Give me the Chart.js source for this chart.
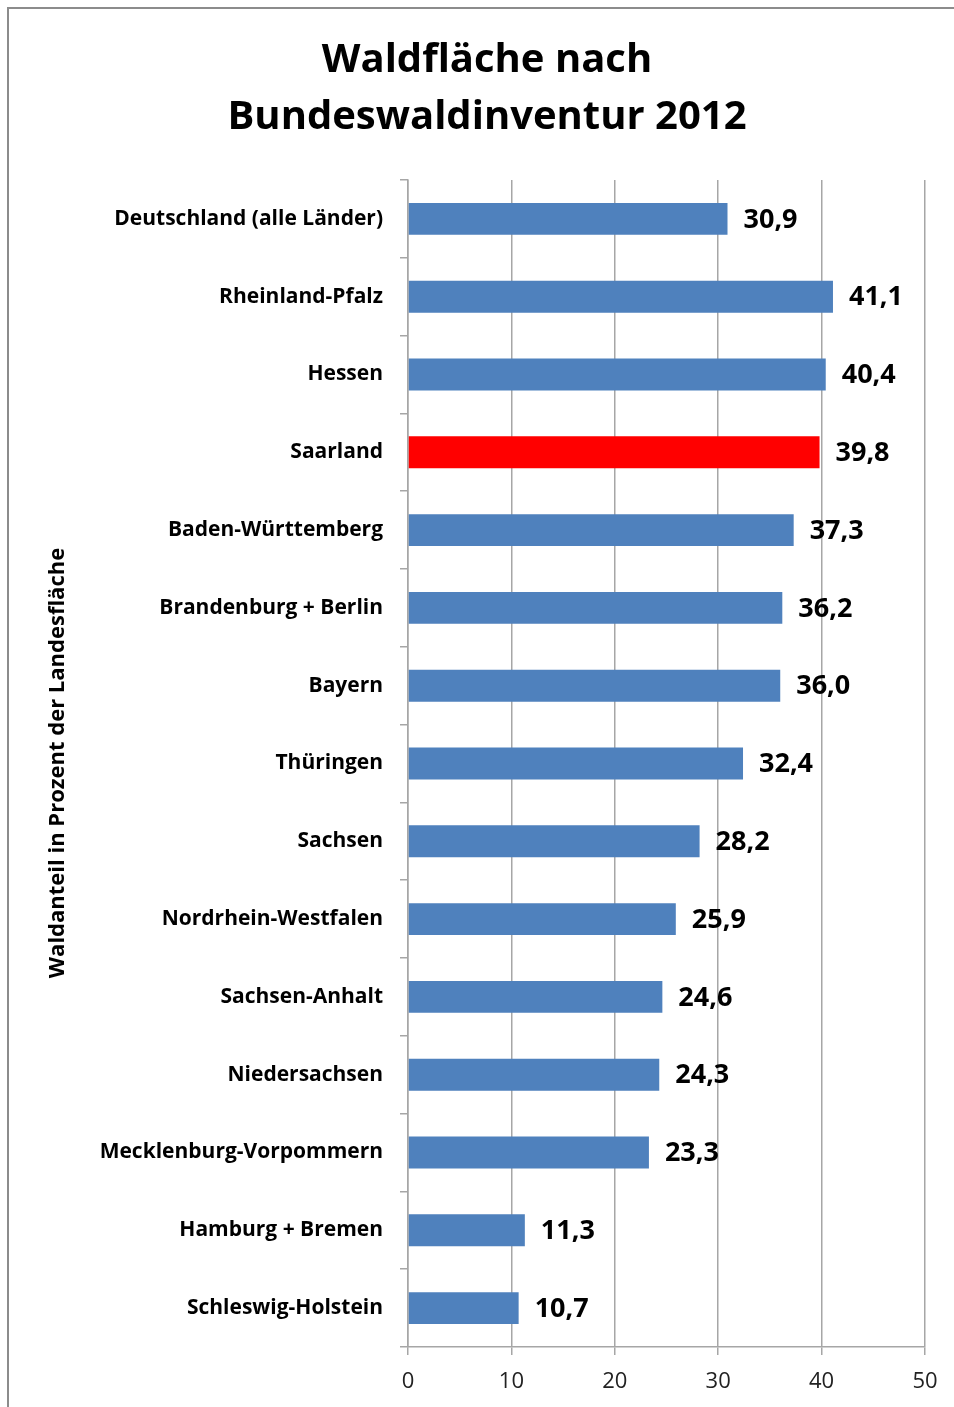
<!DOCTYPE html>
<html>
<head>
<meta charset="utf-8">
<title>Waldfläche nach Bundeswaldinventur 2012</title>
<script src="https://cdn.jsdelivr.net/npm/chart.js@4"></script>
<style>
  html, body { margin: 0; padding: 0; background: #fff; }
  #wrap { position: relative; width: 954px; height: 1407px; }
</style>
</head>
<body>
<div id="wrap"><canvas id="waldChart"></canvas></div>
<script>
var laender = [
  "Deutschland (alle Länder)",
  "Rheinland-Pfalz",
  "Hessen",
  "Saarland",
  "Baden-Württemberg",
  "Brandenburg + Berlin",
  "Bayern",
  "Thüringen",
  "Sachsen",
  "Nordrhein-Westfalen",
  "Sachsen-Anhalt",
  "Niedersachsen",
  "Mecklenburg-Vorpommern",
  "Hamburg + Bremen",
  "Schleswig-Holstein"
];
var waldanteil = [30.9, 41.1, 40.4, 39.8, 37.3, 36.2, 36.0, 32.4, 28.2, 25.9, 24.6, 24.3, 23.3, 11.3, 10.7];
var xTicks = [0, 10, 20, 30, 40, 50];
var hervorheben = "Saarland";

var titelZeilen = ["Waldfläche nach", "Bundeswaldinventur 2012"];
var achsenTitel = "Waldanteil in Prozent der Landesfläche";

var FONT = "'Open Sans', sans-serif";

var barColors = laender.map(function (l) {
  return l === hervorheben ? "#FF0000" : "#4F81BD";
});

function deZahl(v) {
  return v.toFixed(1).replace(".", ",");
}

// Rahmen, Überschrift, Achsentitel und Werte an den Balken
var beschriftung = {
  id: "beschriftung",
  beforeDraw: function (chart) {
    var ctx = chart.ctx;
    ctx.save();
    ctx.strokeStyle = "#8c8c8c";
    ctx.lineWidth = 2;
    ctx.beginPath();
    ctx.moveTo(8, 1407);
    ctx.lineTo(8, 8);
    ctx.lineTo(954, 8);
    ctx.stroke();

    ctx.fillStyle = "#000";
    ctx.textAlign = "center";
    ctx.textBaseline = "middle";
    ctx.font = "bold 40px " + FONT;
    ctx.fillText(titelZeilen[0], 487, 61);
    ctx.fillText(titelZeilen[1], 487, 118);

    ctx.translate(58, 763);
    ctx.rotate(-Math.PI / 2);
    ctx.font = "bold 22px " + FONT;
    ctx.fillText(achsenTitel, 0, 0);
    ctx.restore();
  },
  afterDatasetsDraw: function (chart) {
    var ctx = chart.ctx;
    var meta = chart.getDatasetMeta(0);
    ctx.save();
    ctx.fillStyle = "#000";
    ctx.font = "bold 27px " + FONT;
    ctx.textAlign = "left";
    ctx.textBaseline = "middle";
    meta.data.forEach(function (bar, i) {
      ctx.fillText(deZahl(waldanteil[i]), bar.x + 16, bar.y + 1);
    });
    ctx.restore();
  }
};

new Chart("waldChart", {
  type: "bar",
  data: {
    labels: laender,
    datasets: [{
      data: waldanteil,
      backgroundColor: barColors,
      barPercentage: 0.41,
      categoryPercentage: 1.0
    }]
  },
  plugins: [beschriftung],
  options: {
    indexAxis: "y",
    responsive: true,
    maintainAspectRatio: false,
    animation: false,
    layout: { padding: { top: 180, left: 0, right: 29, bottom: 0 } },
    plugins: {
      legend: { display: false },
      tooltip: { enabled: false }
    },
    scales: {
      x: {
        min: 0,
        max: 50,
        afterFit: function (scale) { scale.height = 60; },
        afterBuildTicks: function (scale) {
          scale.ticks = xTicks.map(function (v) { return { value: v }; });
        },
        grid: {
          color: "#a6a6a6",
          lineWidth: 1.5,
          tickLength: 8,
          drawTicks: true
        },
        border: { color: "#a6a6a6", width: 1.5 },
        ticks: {
          color: "#222",
          padding: 14,
          font: { family: FONT, size: 22 }
        }
      },
      y: {
        afterFit: function (scale) { scale.width = 408; },
        grid: {
          offset: true,
          drawOnChartArea: false,
          color: "#a6a6a6",
          lineWidth: 1.5,
          tickLength: 8
        },
        border: { color: "#a6a6a6", width: 1.5 },
        ticks: {
          color: "#000",
          padding: 17,
          crossAlign: "near",
          font: { family: FONT, size: 21, weight: "bold" }
        }
      }
    }
  }
});
</script>
</body>
</html>
